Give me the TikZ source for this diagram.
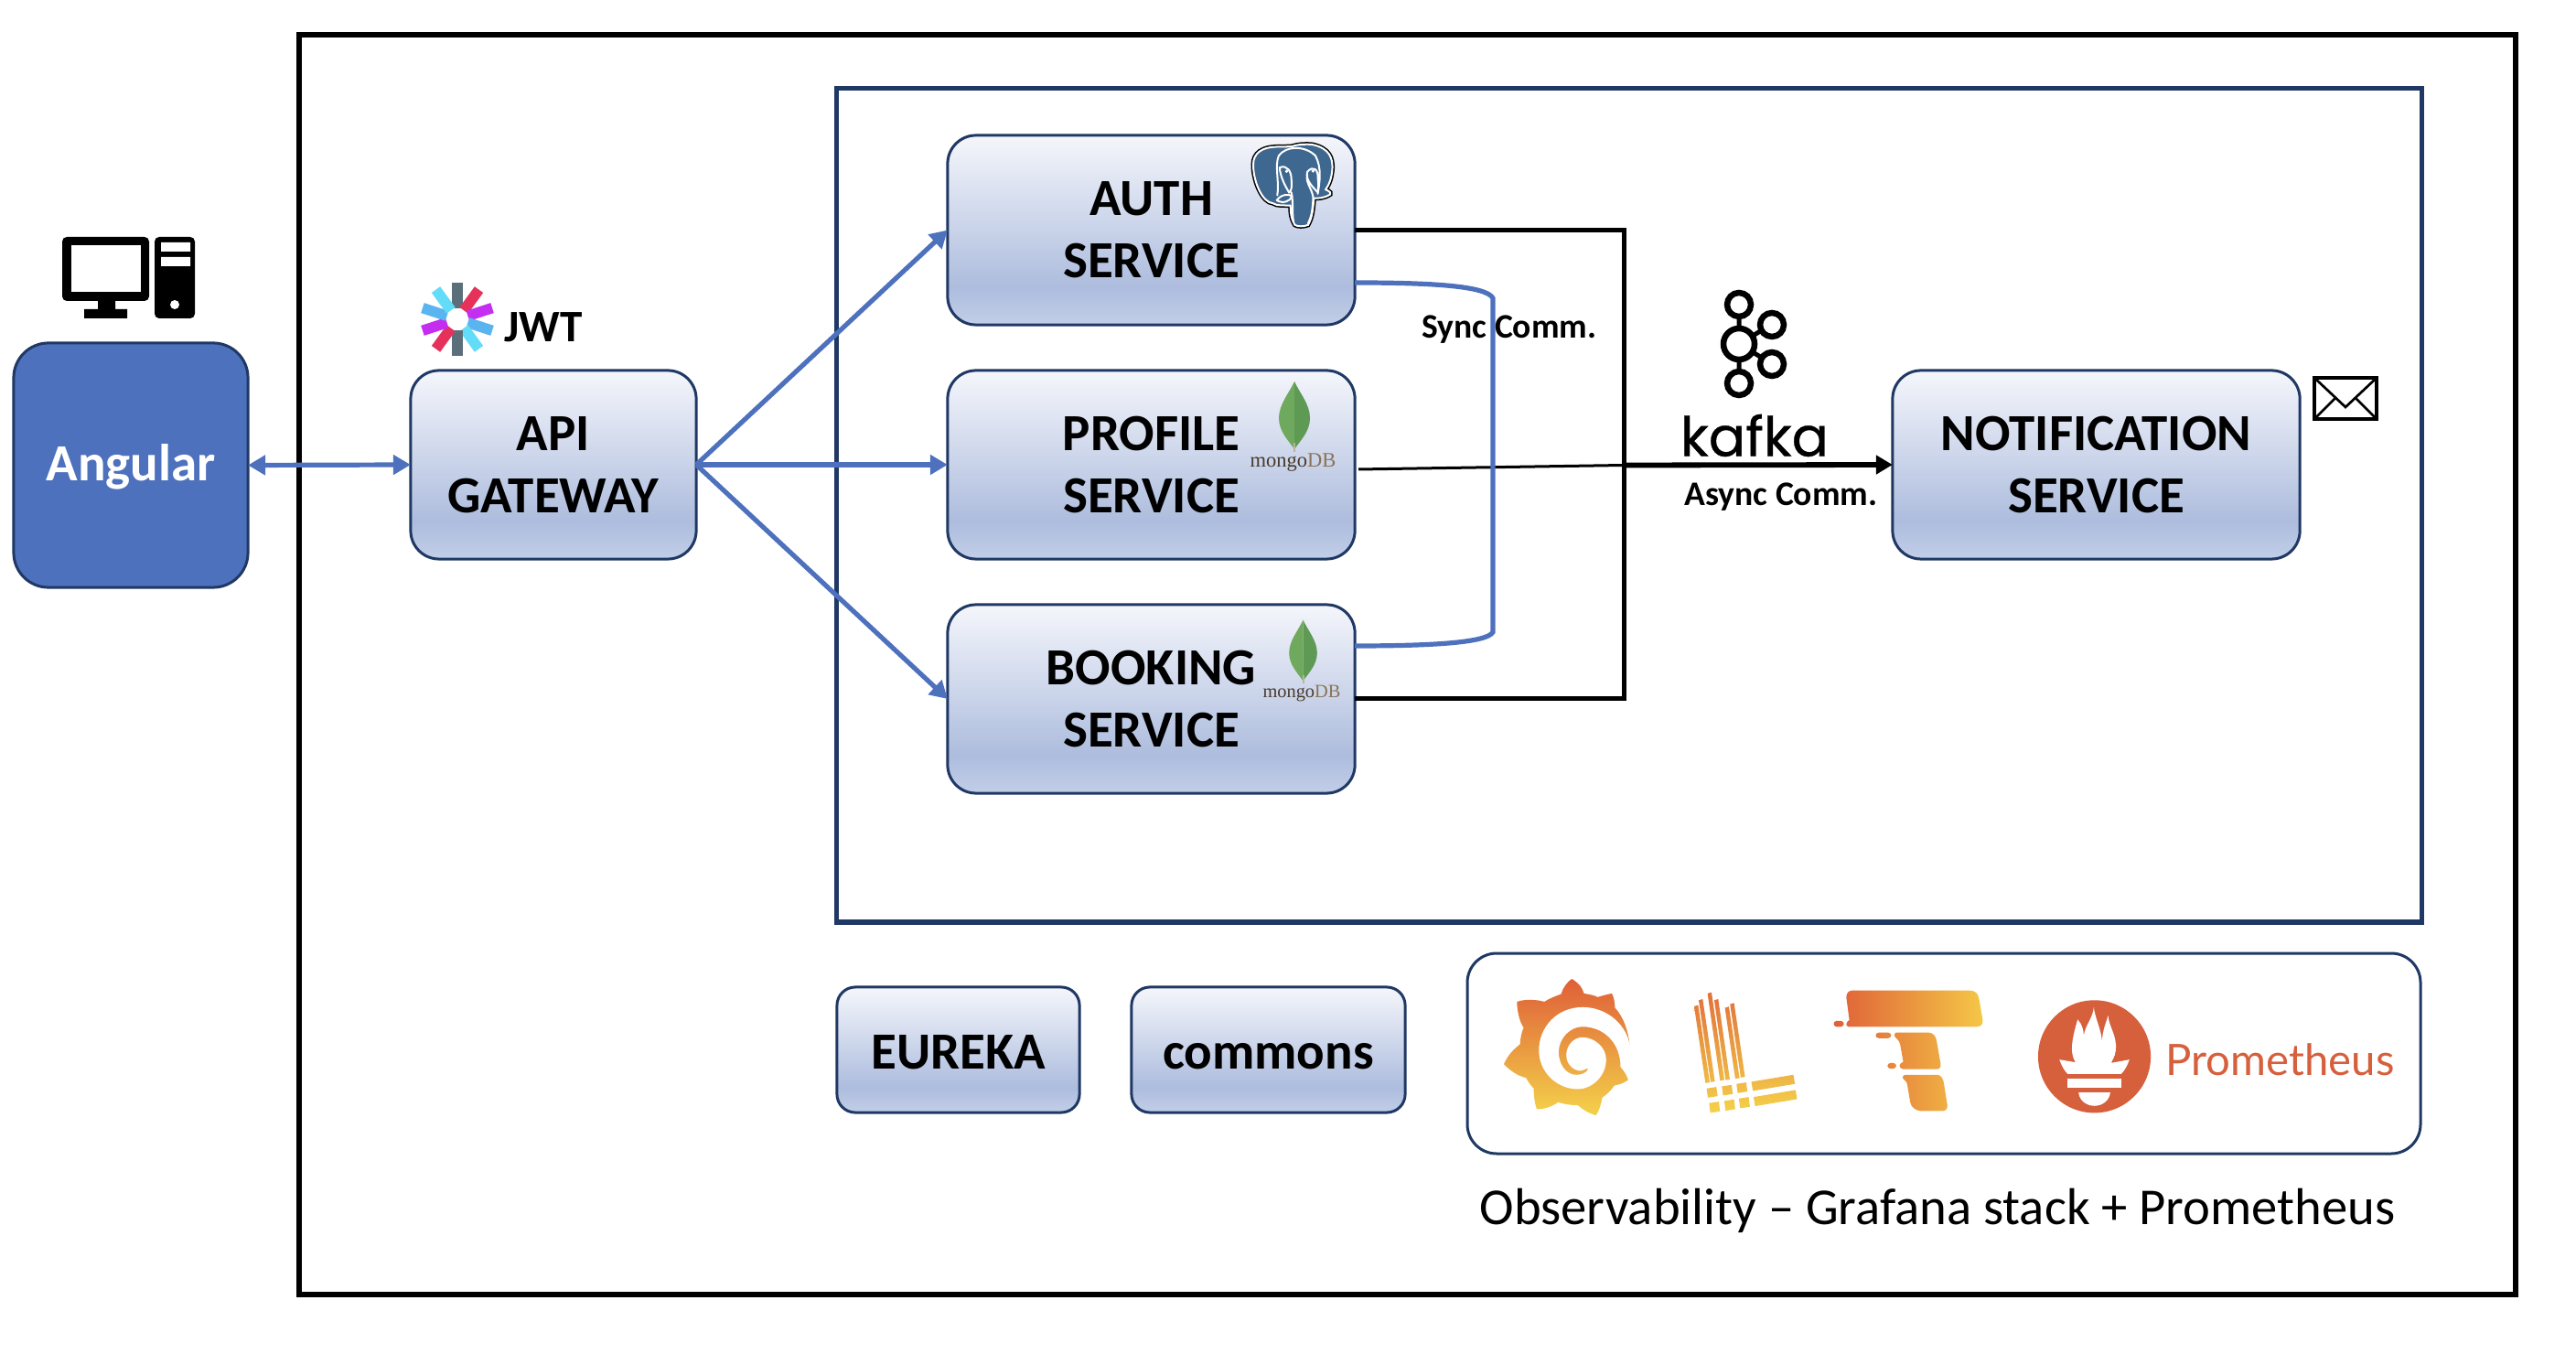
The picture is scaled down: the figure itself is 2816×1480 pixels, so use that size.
\documentclass[tikz,border=0pt]{standalone}
\usepackage{fontspec}
\setmainfont{Carlito}
\newfontfamily\serifmark{Liberation Serif}
\newfontfamily\kafkamark[FakeBold=0.6]{Poppins}
\newfontfamily\latomark{Lato}
\usetikzlibrary{arrows.meta}
\definecolor{navy}{HTML}{1F3864}
\definecolor{office}{HTML}{4E71BD}
\definecolor{promred}{HTML}{D65F3C}
\definecolor{pgblue}{HTML}{3F6890}
\pgfdeclareverticalshading{svcgrad}{100bp}{rgb(0bp)=(0.76,0.81,0.91);rgb(25bp)=(0.76,0.81,0.91);rgb(35bp)=(0.68,0.74,0.87);rgb(75bp)=(0.96,0.965,0.985);rgb(100bp)=(0.96,0.965,0.985)}
\tikzset{
  svcbox/.style={draw=navy,line width=0.03cm,rounded corners=0.31cm,shading=svcgrad,align=center,font=\fontsize{16.2}{19.4}\selectfont\bfseries,text=black,inner sep=0pt,outer sep=0pt},
  smallbox/.style={svcbox,rounded corners=0.2cm,text height=0.41cm,text depth=0pt},
  blueline/.style={draw=office,line width=0.052cm},
  bluearrow/.style={blueline,-{Triangle[length=0.19cm,width=0.21cm]}},
  blackline/.style={draw=black,line width=0.05cm},
  smalllabel/.style={font=\fontsize{10.7}{12}\selectfont\bfseries,inner sep=0pt},
  mongotext/.style={font=\fontsize{6.4}{7}\serifmark,inner sep=0pt},
  mleaf/.pic={
    \fill[leafl] (0,-37) .. controls (-6,-24) and (-17,-12) .. (-17,3) .. controls (-17,18) and (-6,28) .. (0,37) -- cycle;
    \fill[leafr] (0,-37) .. controls (6,-24) and (17,-12) .. (17,3) .. controls (17,18) and (6,28) .. (0,37) -- cycle;
    \draw[stembrown,line width=0.02cm] (0,30) -- (0,40);
  },
  ray/.style={line width=0.115cm},
}
\definecolor{leafl}{HTML}{6FA95D}
\definecolor{leafr}{HTML}{5F9A55}
\definecolor{stembrown}{HTML}{B8B596}
\definecolor{mongodark}{HTML}{4B3A2C}
\definecolor{mongotan}{HTML}{8C7355}
\definecolor{gradtop}{HTML}{DF5F38}
\definecolor{gradbot}{HTML}{F4D24A}
\definecolor{jwtgray}{HTML}{5B6F7A}
\definecolor{jwtred}{HTML}{E6325A}
\definecolor{jwtpurple}{HTML}{C42EF0}
\definecolor{jwtblue}{HTML}{5AB4F0}
\definecolor{jwtcyan}{HTML}{62DCF8}
\begin{document}
\begin{tikzpicture}[x=0.01cm,y=-0.01cm]
\useasboundingbox (0,0) rectangle (2816,1480);
% frames
\draw[black,line width=0.06cm] (327,38) rectangle (2750,1415);
\draw[navy,line width=0.05cm] (914,97) rectangle (2647,1008);
\draw[navy,line width=0.03cm,rounded corners=0.32cm] (1604,1042) rectangle (2646,1261);
% main nodes
\node[draw=navy,line width=0.03cm,rounded corners=0.38cm,fill=office,minimum width=2.56cm,minimum height=2.67cm,font=\fontsize{16.2}{19.4}\selectfont\bfseries,text=white,inner sep=0pt,outer sep=0pt,text height=0.33cm,text depth=0pt] (angular) at (143,508.5) {Angular};
\node[svcbox,minimum width=3.12cm,minimum height=2.06cm] (api) at (605,508) {API\\[0pt]GATEWAY};
\node[svcbox,minimum width=4.45cm,minimum height=2.07cm] (auth) at (1258.5,251.5) {AUTH\\SERVICE};
\node[svcbox,minimum width=4.45cm,minimum height=2.06cm] (profile) at (1258.5,508) {PROFILE\\SERVICE};
\node[svcbox,minimum width=4.45cm,minimum height=2.06cm] (booking) at (1258.5,764) {BOOKING\\SERVICE};
\node[svcbox,minimum width=4.45cm,minimum height=2.06cm] (notif) at (2291.5,508) {NOTIFICATION\\SERVICE};
\node[smallbox,minimum width=2.65cm,minimum height=1.37cm] (eureka) at (1047.5,1147.5) {EUREKA};
\node[smallbox,minimum width=2.99cm,minimum height=1.37cm] (commons) at (1386.5,1147.5) {commons};
% connectors
\draw[blueline,{Triangle[length=0.19cm,width=0.21cm]}-{Triangle[length=0.19cm,width=0.21cm]}] (angular.east) -- (api.west);
\draw[bluearrow] (api.east) -- (auth.west);
\draw[bluearrow] (api.east) -- (profile.west);
\draw[bluearrow] (api.east) -- (booking.west);
\coordinate (bus) at (1775,508.5);
\coordinate (pstart) at (1485,513);
\coordinate (a1) at (1481,309);
\coordinate (b1) at (1481,706);
\draw[blackline] (auth.east) -- (bus|-auth.east) -- (bus|-booking.east) -- (booking.east);
\draw[black,line width=0.03cm] (pstart) -- (bus);
\draw[black,line width=0.058cm,-{Triangle[length=0.18cm,width=0.2cm]}] (bus) -- (notif.west);
\draw[blueline] (a1) .. controls (1560,309) and (1625,312) .. (1632,326) -- (1632,691) .. controls (1625,703) and (1560,706) .. (b1);
% labels
\node[smalllabel] (sync) at (1650,360) {Sync Comm.};
\node[smalllabel] (async) at (1947,543) {Async Comm.};
\node[font=\fontsize{14}{16}\selectfont\bfseries,inner sep=0pt] (jwt) at (594,357.5) {JWT};
\node[font=\fontsize{16.1}{19}\selectfont,inner sep=0pt] (obs) at (2118,1323) {Observability -- Grafana stack + Prometheus};
% computer
\fill[black,rounded corners=0.05cm] (68,259) rectangle (163,329);
\fill[white] (78,268) rectangle (154,319);
\fill[black] (107,329) rectangle (126,340) (92,338) rectangle (139,348);
\fill[black,rounded corners=0.05cm] (169,259) rectangle (213,348);
\fill[white] (176,265) rectangle (208,275) (176,281) rectangle (208,291);
\fill[white] (191,333) circle (5);
% JWT logo
\foreach \a/\c in {90/jwtgray,54/jwtred,18/jwtpurple,-18/jwtblue,-54/jwtcyan,-90/jwtgray,-126/jwtred,-162/jwtpurple,162/jwtblue,126/jwtcyan}{
  \draw[ray,\c] ({500+12*cos(\a)},{349-12*sin(\a)}) -- ({500+40*cos(\a)},{349-40*sin(\a)});
}
% postgres elephant
\begin{scope}[shift={(1361,151)},x=0.0032cm,y=-0.0032cm]
\def\elephantpath{(100,30) .. controls (120,28) and (140,30) .. (160,28) .. controls (185,20) and (210,20) .. (230,22) .. controls (290,35) and (298,70) .. (298,100) .. controls (296,140) and (285,160) .. (275,175) .. controls (290,182) and (295,188) .. (290,192) .. controls (270,205) and (250,205) .. (235,205) .. controls (232,240) and (230,270) .. (215,296) .. controls (200,302) and (180,302) .. (170,296) .. controls (155,270) and (155,250) .. (155,230) .. controls (130,228) and (110,232) .. (95,222) .. controls (60,220) and (28,150) .. (28,90) .. controls (28,50) and (60,32) .. (100,30) -- cycle}
\draw[black,line width=0.05cm,fill=pgblue] \elephantpath;
\draw[white,line width=0.02cm,fill=pgblue] \elephantpath;
\draw[white,line width=0.02cm,line cap=round]
  (110,195) .. controls (118,150) and (100,95) .. (115,60) .. controls (140,25) and (205,25) .. (240,60) .. controls (262,100) and (255,150) .. (248,190)
  (118,100) .. controls (145,90) and (158,115) .. (158,140) .. controls (160,160) and (160,180) .. (150,185) .. controls (135,160) and (120,130) .. (118,100)
  (212,115) .. controls (235,90) and (250,110) .. (248,135) .. controls (250,150) and (252,170) .. (248,185) .. controls (235,170) and (205,145) .. (212,115)
  (158,185) .. controls (165,215) and (160,250) .. (165,285)
  (212,125) .. controls (205,155) and (235,180) .. (232,210) .. controls (230,240) and (228,265) .. (215,290)
  (108,212) .. controls (125,190) and (150,190) .. (160,198) .. controls (155,215) and (130,225) .. (108,212);
\fill[white] (142,113) circle (6) (232,112) circle (6);
\end{scope}
% mongo logos
\path (1415,454) pic {mleaf};
\node[mongotext] (m1) at (1413.5,506) {\textcolor{mongodark}{mongo}\textcolor{mongotan}{DB}};
\path (1424.5,711) pic[scale=0.9] {mleaf};
\node[mongotext,font=\fontsize{5.8}{7}\serifmark] (m2) at (1423,758) {\textcolor{mongodark}{mongo}\textcolor{mongotan}{DB}};
% kafka
\foreach \xx/\yy/\rr in {1901/333/13,1901/376/17,1901/419/13,1937/355/13,1937/398/13}{
  \draw[black,line width=0.065cm] (\xx,\yy) circle (\rr);
}
\draw[black,line width=0.05cm] (1901,346) -- (1901,359) (1901,393) -- (1901,406) (1916,367) -- (1926,361) (1916,385) -- (1926,391);
\node[font=\fontsize{17}{20}\kafkamark,inner sep=0pt] (kafka) at (1918,476) {kafka};
% envelope
\draw[black,line width=0.045cm] (2530,413) rectangle (2598,458);
\draw[black,line width=0.027cm,line join=miter] (2530,413) -- (2564,445) -- (2598,413) (2530,458) -- (2552,436) (2598,458) -- (2576,436);
% grafana
\begin{scope}[shift={(1630,1060)},x=0.003333cm,y=-0.003333cm]
\shade[top color=gradtop,bottom color=gradbot,middle color=gradtop!50!gradbot] (265,30) .. controls (290,45) and (300,60) .. (305,78) .. controls (330,82) and (345,86) .. (350,90) .. controls (365,85) and (385,80) .. (397,78) .. controls (405,95) and (406,110) .. (407,125) .. controls (435,155) and (450,200) .. (455,245) -- (425,320) .. controls (435,330) and (445,345) .. (450,362) .. controls (435,372) and (420,378) .. (405,380) .. controls (395,395) and (380,410) .. (365,420) .. controls (362,440) and (355,462) .. (345,478) .. controls (320,472) and (300,458) .. (285,445) .. controls (265,445) and (240,442) .. (220,435) .. controls (200,450) and (175,458) .. (150,458) .. controls (142,435) and (140,410) .. (140,390) .. controls (130,380) and (120,365) .. (115,355) .. controls (90,350) and (60,330) .. (42,310) .. controls (55,280) and (75,260) .. (95,245) .. controls (96,225) and (100,205) .. (107,190) .. controls (92,170) and (85,130) .. (85,105) .. controls (115,95) and (150,98) .. (175,105) .. controls (190,95) and (210,87) .. (230,80) .. controls (235,60) and (250,40) .. (265,30) -- cycle;
\fill[white] (455,245) .. controls (440,170) and (370,122) .. (300,123) .. controls (215,123) and (157,190) .. (157,265) .. controls (157,335) and (215,392) .. (285,392) .. controls (330,392) and (378,350) .. (378,295) .. controls (378,255) and (340,222) .. (300,222) .. controls (270,222) and (247,250) .. (247,280) .. controls (247,310) and (270,332) .. (295,332) -- (320,323) .. controls (315,340) and (295,345) .. (280,345) .. controls (245,345) and (222,310) .. (222,270) .. controls (222,225) and (260,187) .. (300,187) .. controls (370,187) and (425,240) .. (425,318) -- (470,320) -- (470,245) -- cycle;
% loki
\shade[top color=gradtop!85!gradbot,bottom color=gradbot]
 (667,120) -- (680,116) -- (718,370) -- (704,372) -- cycle
 (682,100) -- (695,96) -- (735,367) -- (721,369) -- cycle
 (711,78) -- (724,74) -- (766,362) -- (752,364) -- cycle
 (733,100) -- (746,96) -- (784,360) -- (770,362) -- cycle
 (768,125) -- (781,121) -- (816,356) -- (802,358) -- cycle
 (785,113) -- (798,109) -- (834,352) -- (820,354) -- cycle
 (708,390) -- (740,385) -- (744,415) -- (712,420) -- cycle
 (758,383) -- (790,378) -- (794,408) -- (762,413) -- cycle
 (806,375) -- (838,370) -- (842,400) -- (810,405) -- cycle
 (716,438) -- (748,433) -- (752,465) -- (720,470) -- cycle
 (766,431) -- (798,426) -- (802,458) -- (770,463) -- cycle
 (814,423) -- (846,418) -- (850,450) -- (818,455) -- cycle
 (855,368) -- (993,345) -- (998,375) -- (860,398) -- cycle
 (862,418) -- (1000,395) -- (1005,425) -- (867,448) -- cycle;
\end{scope}
% tempo and prometheus
\begin{scope}[shift={(1990,1070)},x=0.003333cm,y=-0.003333cm]
\shade[left color=gradtop,right color=gradbot!95!red]
 (85,60) .. controls (85,45) and (95,38) .. (105,38) -- (490,38) .. controls (510,38) and (520,50) .. (522,70) -- (533,135) .. controls (535,150) and (525,157) .. (515,157) -- (92,157) .. controls (80,155) and (85,140) .. (95,135) -- cycle
 (52,138) -- (68,138) .. controls (80,140) and (80,155) .. (68,157) -- (52,157) .. controls (41,155) and (41,140) .. (52,138) -- cycle
 (192,176) -- (222,176) .. controls (236,178) and (236,193) .. (222,195) -- (192,195) .. controls (178,193) and (178,178) .. (192,176) -- cycle
 (230,276) -- (240,276) .. controls (252,278) and (252,293) .. (240,295) -- (230,295) .. controls (217,293) and (217,278) .. (230,276) -- cycle
 (250,176) -- (355,176) .. controls (372,177) and (380,190) .. (382,205) -- (395,280) .. controls (397,292) and (390,296) .. (385,296) -- (270,296) .. controls (255,292) and (258,278) .. (272,272) -- (262,215) .. controls (260,200) and (245,195) .. (243,186) .. controls (242,178) and (248,176) .. (250,176) -- cycle
 (280,315) -- (385,315) .. controls (397,316) and (403,330) .. (405,340) -- (417,415) .. controls (418,428) and (410,434) .. (400,434) -- (330,434) .. controls (310,432) and (298,420) .. (295,405) -- (285,345) .. controls (283,335) and (270,330) .. (270,323) .. controls (270,317) and (276,315) .. (280,315) -- cycle;
\fill[promred] (900,255) circle (185);
\fill[white] (898,92) .. controls (900,125) and (925,170) .. (925,210) .. controls (925,170) and (940,140) .. (945,120) .. controls (948,160) and (975,185) .. (970,235) .. controls (968,255) and (958,268) .. (955,276) -- (1015,265) .. controls (1008,285) and (1000,300) .. (988,312) -- (812,312) .. controls (800,300) and (792,285) .. (785,265) -- (838,274) .. controls (815,240) and (830,185) .. (845,133) .. controls (860,150) and (865,170) .. (865,187) .. controls (870,150) and (895,130) .. (898,92) -- cycle;
\fill[white] (812,327) rectangle (988,358);
\fill[white] (848,373) -- (952,373) .. controls (950,400) and (925,417) .. (900,417) .. controls (875,417) and (850,400) .. (848,373) -- cycle;
\end{scope}
\node[font=\fontsize{13.45}{15}\latomark,text=promred,inner sep=0pt,anchor=west] (prom) at (2367,1158) {Prometheus};
\end{tikzpicture}
\end{document}
